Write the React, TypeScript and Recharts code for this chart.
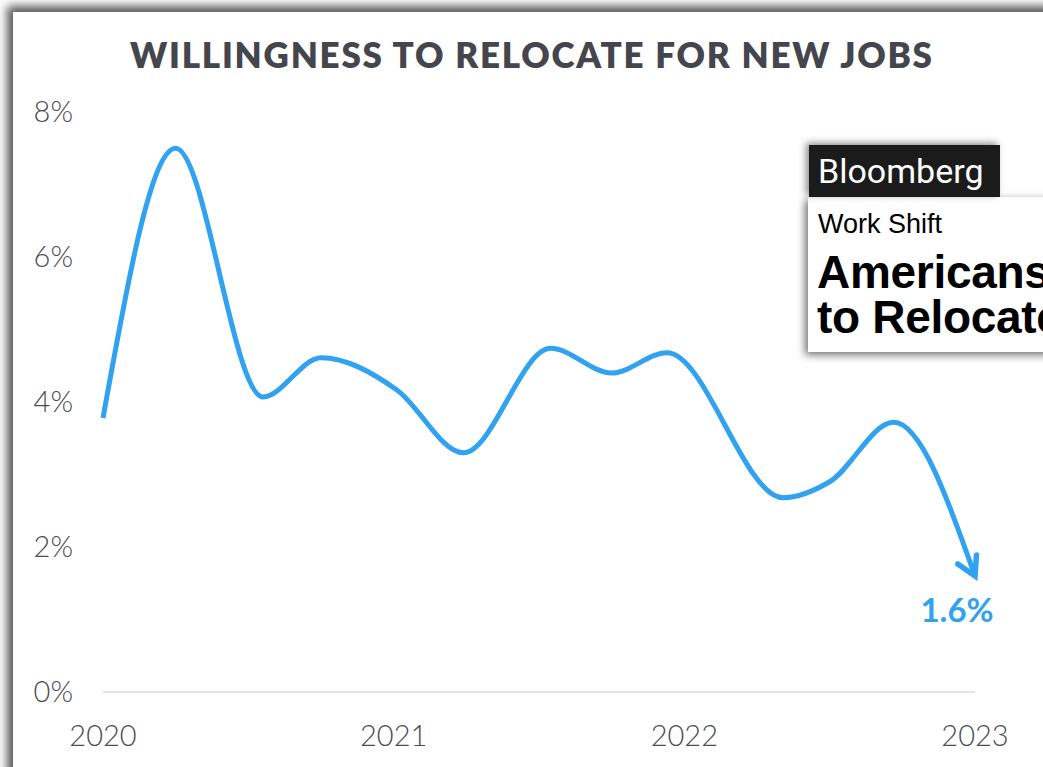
import React from "react";
import { LineChart, Line, XAxis, YAxis } from "recharts";

// survey points, x = fractional year
const years = [2020.0, 2020.25, 2020.55, 2020.75, 2021.01, 2021.24, 2021.54, 2021.75, 2021.94, 2022.34, 2022.5, 2022.72, 2023.0];
const relocating = [3.78, 7.5, 4.07, 4.61, 4.17, 3.3, 4.74, 4.4, 4.68, 2.68, 2.9, 3.72, 1.6];

const xTicks = [2020, 2021, 2022, 2023];
const yTicks = [0, 2, 4, 6, 8];

const title = "WILLINGNESS TO RELOCATE FOR NEW JOBS";
const lastLabel = "1.6%";

const BLUE = "#31a2ef";
const TEXT = "#4a4b54";

const data = years.map((year, i) => ({ year, value: relocating[i] }));

// arrowhead on the final point
function ArrowDot(props: any) {
  const { cx, cy, index } = props;
  if (index !== data.length - 1 || cx == null) return <g key={`dot-${index}`} />;
  const len = 21;
  const a1 = (-145 * Math.PI) / 180;
  const a2 = (-86 * Math.PI) / 180;
  const d = `M ${cx + len * Math.cos(a1)} ${cy + len * Math.sin(a1)} L ${cx} ${cy} L ${cx + len * Math.cos(a2)} ${cy + len * Math.sin(a2)}`;
  return (
    <path
      key={`dot-${index}`}
      d={d}
      fill="none"
      stroke={BLUE}
      strokeWidth={5.5}
      strokeLinecap="round"
      strokeLinejoin="miter"
    />
  );
}

function LastLabel(props: any) {
  const { x, y, index } = props;
  if (index !== data.length - 1) return null;
  return (
    <text
      x={x - 18}
      y={y + 46}
      textAnchor="middle"
      fill={BLUE}
      fontFamily="Lato, sans-serif"
      fontWeight={700}
      fontSize={33}
    >
      {lastLabel}
    </text>
  );
}

export default function App() {
  const tickStyle = { fill: TEXT, fontSize: 29, fontFamily: "Lato, sans-serif", fontWeight: 300 };
  return (
    <div
      style={{
        position: "absolute",
        left: 0,
        top: 0,
        width: 1043,
        height: 767,
        overflow: "hidden",
        background: "#fff",
      }}
    >
      {/* screenshot frame */}
      <div
        style={{
          position: "absolute",
          left: 13,
          top: 12,
          width: 1100,
          height: 820,
          background: "#fff",
          boxShadow: "0 0 9px 6px rgba(80,80,80,0.95)",
        }}
      />

      <svg width={1043} height={100} style={{ position: "absolute", left: 0, top: 0 }}>
        <text
          x={531}
          y={68}
          textAnchor="middle"
          textLength={802}
          lengthAdjust="spacing"
          fill="#44454d"
          fontFamily="Lato, sans-serif"
          fontWeight={800}
          fontSize={35}
        >
          {title}
        </text>
      </svg>

      <div style={{ position: "absolute", left: 0, top: 0 }}>
        <LineChart width={1043} height={767} data={data} margin={{ top: 112, right: 68, bottom: 35, left: 0 }}>
          <XAxis
            dataKey="year"
            type="number"
            domain={[2020, 2023]}
            ticks={xTicks}
            tickLine={false}
            tickSize={0}
            tickMargin={33}
            axisLine={{ stroke: "#e4e4e4", strokeWidth: 2 }}
            tick={tickStyle}
            height={40}
          />
          <YAxis
            domain={[0, 8]}
            ticks={yTicks}
            tickFormatter={(v) => `${v}%`}
            axisLine={false}
            tickLine={false}
            tickSize={0}
            tickMargin={30}
            tick={tickStyle}
            width={103}
          />
          <Line
            type="monotone"
            dataKey="value"
            stroke={BLUE}
            strokeWidth={5}
            dot={ArrowDot}
            activeDot={false}
            label={LastLabel}
            isAnimationActive={false}
          />
        </LineChart>
      </div>

      {/* Bloomberg article card */}
      <div
        style={{
          position: "absolute",
          left: 808,
          top: 197,
          width: 320,
          height: 155,
          background: "#fff",
          boxShadow: "-3px 3px 8px rgba(0,0,0,0.55)",
          fontFamily: "'Liberation Sans', Arial, sans-serif",
          color: "#000",
        }}
      >
        <div style={{ position: "absolute", left: 10, top: 14, fontSize: 27, lineHeight: "27px", whiteSpace: "nowrap" }}>
          Work Shift
        </div>
        <div
          style={{
            position: "absolute",
            left: 9,
            top: 53,
            fontSize: 46,
            lineHeight: "44px",
            fontWeight: 700,
            letterSpacing: -0.3,
            whiteSpace: "nowrap",
          }}
        >
          Americans
        </div>
        <div
          style={{
            position: "absolute",
            left: 9,
            top: 98,
            fontSize: 46,
            lineHeight: "44px",
            fontWeight: 700,
            letterSpacing: -0.3,
            whiteSpace: "nowrap",
          }}
        >
          to Relocate
        </div>
      </div>
      <div
        style={{
          position: "absolute",
          left: 809,
          top: 145,
          width: 191,
          height: 52,
          background: "#1b1b1b",
          boxShadow: "-3px -2px 7px rgba(0,0,0,0.45)",
          color: "#fff",
          fontFamily: "Roboto, Arial, sans-serif",
          fontWeight: 400,
          fontSize: 34,
          lineHeight: "52px",
          paddingLeft: 9,
          boxSizing: "border-box",
          whiteSpace: "nowrap",
        }}
      >
        Bloomberg
      </div>
    </div>
  );
}
